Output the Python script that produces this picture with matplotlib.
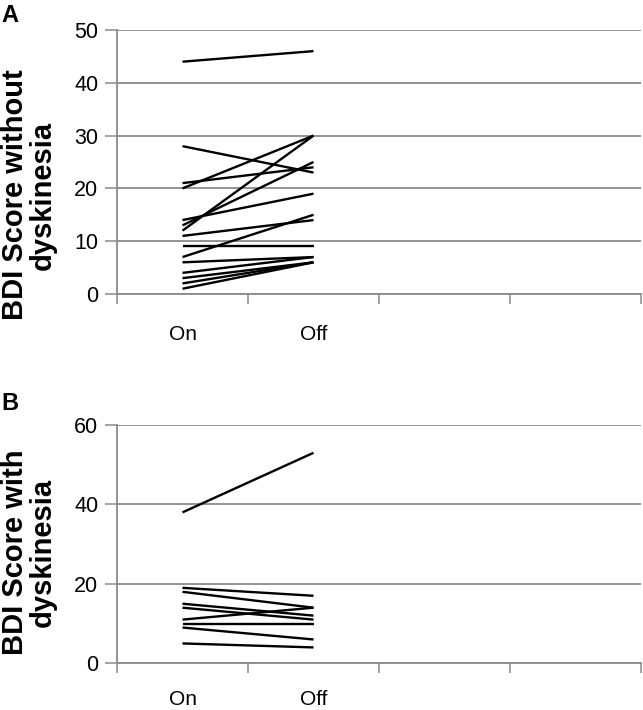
import matplotlib
matplotlib.use("Agg")
import matplotlib.pyplot as plt

# ---- data ----
categories = ["On", "Off"]
a_on  = [44, 28, 21, 20, 14, 13, 12, 11, 9, 7, 6, 4, 3, 2, 1]
a_off = [46, 23, 24, 30, 19, 25, 30, 14, 9, 15, 7, 7, 6, 6, 6]
b_on  = [38, 19, 18, 15, 14, 11, 10, 9, 5]
b_off = [53, 17, 14, 12, 11, 14, 10, 6, 4]
a_yticks = [0, 10, 20, 30, 40, 50]
b_yticks = [0, 20, 40, 60]
a_ylabel = "BDI Score without\ndyskinesia"
b_ylabel = "BDI Score with\ndyskinesia"

plt.rcParams['font.family'] = ['Liberation Sans', 'DejaVu Sans']
GRAY = "#8a8a8a"
W, H = 643, 710
fig = plt.figure(figsize=(W/100, H/100), dpi=100)

def panel(rect, on, off, yticks, ylabel, letter, letter_y, ylab_y, xpad):
    ax = fig.add_axes(rect)
    xs = [0.5, 1.5]
    for a, b in zip(on, off):
        ax.plot(xs, [a, b], color="black", lw=1.7, solid_capstyle="butt")
    ax.set_xlim(0, 4)
    ax.set_ylim(yticks[0], yticks[-1])
    ax.set_yticks(yticks)
    ax.set_xticks([0, 1, 2, 3, 4])
    ax.set_xticklabels([])
    ax.set_xticks(xs, minor=True)
    ax.set_xticklabels(categories, minor=True)
    ax.tick_params(axis="x", which="minor", length=0, pad=xpad, labelsize=15)
    ax.tick_params(axis="x", which="major", direction="out", length=7.5,
                   width=1.1, color=GRAY)
    ax.tick_params(axis="y", direction="out", length=8.5, width=1.1,
                   color=GRAY, labelsize=15.5, pad=5)
    ax.yaxis.grid(True, color=GRAY, lw=1.3)
    ax.set_axisbelow(True)
    for s in ["top", "right"]:
        ax.spines[s].set_visible(False)
    for s in ["left", "bottom"]:
        ax.spines[s].set_color(GRAY)
        ax.spines[s].set_linewidth(1.3)
    fig.text(1/W, 1 - letter_y/H, letter, fontsize=17, fontweight="bold",
             ha="left", va="top")
    fig.text(29/W, 1 - ylab_y/H, ylabel, fontsize=21, fontweight="bold",
             rotation=90, ha="center", va="center", linespacing=1.0,
             multialignment="center")
    return ax

panel([117/W, 1 - 294/H, 524/W, 264/H], a_on, a_off, a_yticks,
      a_ylabel, "A", 4, 195, 22)
panel([117/W, 1 - 663.3/H, 524/W, 238.3/H], b_on, b_off, b_yticks,
      b_ylabel, "B", 392, 552, 19)

fig.savefig("out.png", dpi=100)
